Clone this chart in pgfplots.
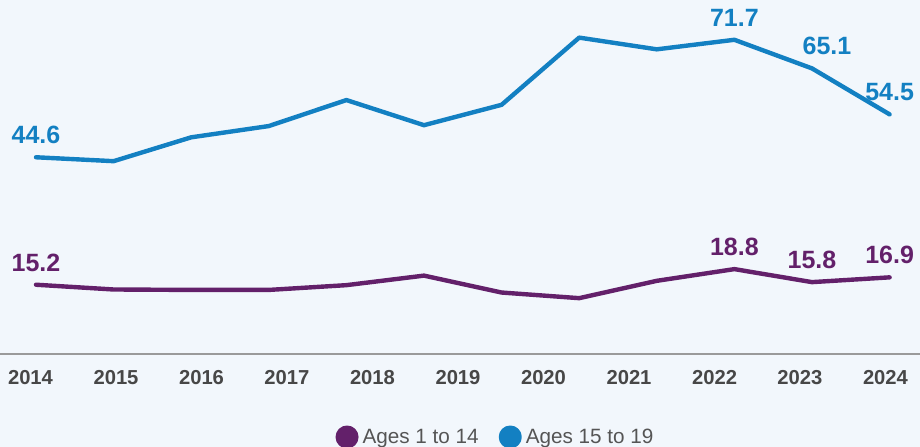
\documentclass[border=0pt]{standalone}
\usepackage{pgfplots}
\pgfplotsset{compat=1.18}
\usepackage{fontspec}
\setmainfont{Liberation Sans}
\definecolor{bgc}{HTML}{F2F7FC}
\definecolor{blueC}{HTML}{1380C2}
\definecolor{purpC}{HTML}{63206A}
\definecolor{tickC}{HTML}{474747}
\definecolor{legC}{HTML}{555555}
\definecolor{baseC}{HTML}{9A9A9A}
\begin{document}
\begin{tikzpicture}
\useasboundingbox (0,0) rectangle (920bp,447bp);
\clip (0,0) rectangle (920bp,447bp);
\fill[bgc] (0,0) rectangle (920bp,447bp);
\begin{axis}[
  at={(0bp,93bp)}, anchor=south west,
  scale only axis, width=920bp, height=354bp,
  xmin=-0.464, xmax=11.392, ymin=-0.78, ymax=80.88,
  axis x line*=bottom, axis y line=none,
  axis line style={draw=baseC, line width=2bp},
  xtick={-0.071,1.031,2.133,3.234,4.336,5.438,6.540,7.642,8.744,9.845,10.947},
  xticklabels={2014,2015,2016,2017,2018,2019,2020,2021,2022,2023,2024},
  major tick length=0pt,
  xticklabel style={font=\fontsize{20.2bp}{24bp}\selectfont\bfseries, text=tickC, inner sep=0pt, yshift=-16bp},
  clip=false,
  legend columns=2,
  legend style={at={(0.5386,-0.2345)}, anchor=center, draw=none, fill=none,
    font=\fontsize{20.7bp}{24bp}\selectfont, text=legC,
    /tikz/every even column/.append style={column sep=18bp}},
  legend image code/.code={\fill[#1] (0bp,0bp) circle (9.3bp); \path[draw=none,fill=none] (9.3bp,0bp) -- (13.5bp,0bp);},
  every axis plot/.append style={line width=4.4bp, line join=round, line cap=round},
]
\addplot[color=purpC] coordinates {(0,15.2)(1,14.1)(2,14.0)(3,14.0)(4,15.1)(5,17.3)(6,13.4)(7,12.1)(8,16.1)(9,18.8)(10,15.8)(11,16.9)};
\addlegendentry{Ages 1 to 14}
\addplot[color=blueC] coordinates {(0,44.6)(1,43.7)(2,49.2)(3,51.8)(4,57.8)(5,52.0)(6,56.7)(7,72.2)(8,69.5)(9,71.7)(10,65.1)(11,54.5)};
\addlegendentry{Ages 15 to 19}
% value labels
\addplot[draw=none, forget plot, point meta=explicit symbolic, nodes near coords={\pgfplotspointmeta},
  nodes near coords style={font=\fontsize{25bp}{30bp}\selectfont\bfseries, text=blueC, anchor=south, inner sep=0pt, yshift=11bp}]
  coordinates {(0,44.6)[44.6] (9,71.7)[71.7] (11,54.5)[54.5]};
\addplot[draw=none, forget plot, point meta=explicit symbolic, nodes near coords={\pgfplotspointmeta},
  nodes near coords style={font=\fontsize{25bp}{30bp}\selectfont\bfseries, text=blueC, anchor=south, inner sep=0pt, yshift=11bp, xshift=15bp}]
  coordinates {(10,65.1)[65.1]};
\addplot[draw=none, forget plot, point meta=explicit symbolic, nodes near coords={\pgfplotspointmeta},
  nodes near coords style={font=\fontsize{25bp}{30bp}\selectfont\bfseries, text=purpC, anchor=south, inner sep=0pt, yshift=11bp}]
  coordinates {(0,15.2)[15.2] (9,18.8)[18.8] (10,15.8)[15.8] (11,16.9)[16.9]};
\end{axis}
\end{tikzpicture}
\end{document}
